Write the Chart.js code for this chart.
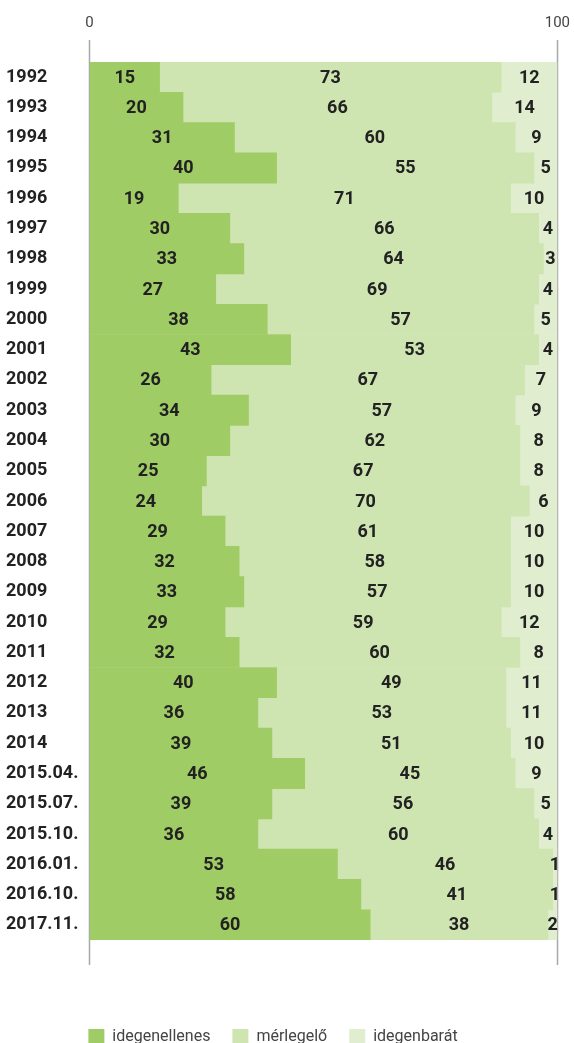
<!DOCTYPE html>
<html>
<head>
<meta charset="utf-8">
<script src="https://cdn.jsdelivr.net/npm/chart.js@4"></script>
<style>
  html, body { margin: 0; padding: 0; background: #fff; overflow: hidden; }
  #wrap { width: 574px; height: 1043px; }
</style>
</head>
<body>
<div id="wrap"><canvas id="chart"></canvas></div>
<script>
// survey periods
const periods = ['1992', '1993', '1994', '1995', '1996', '1997', '1998', '1999', '2000', '2001',
    '2002', '2003', '2004', '2005', '2006', '2007', '2008', '2009', '2010', '2011',
    '2012', '2013', '2014', '2015.04.', '2015.07.', '2015.10.', '2016.01.', '2016.10.', '2017.11.'];

const idegenellenes = [15, 20, 31, 40, 19, 30, 33, 27, 38, 43, 26, 34, 30, 25, 24, 29, 32, 33, 29, 32, 40, 36, 39, 46, 39, 36, 53, 58, 60];
const merlegelo = [73, 66, 60, 55, 71, 66, 64, 69, 57, 53, 67, 57, 62, 67, 70, 61, 58, 57, 59, 60, 49, 53, 51, 45, 56, 60, 46, 41, 38];
const idegenbarat = [12, 14, 9, 5, 10, 4, 3, 4, 5, 4, 7, 9, 8, 8, 6, 10, 10, 10, 12, 8, 11, 11, 10, 9, 5, 4, 1, 1, 2];

const axisTicks = [0, 100];

const FONT = "Roboto, 'Noto Sans', sans-serif";

// the two axis lines run a bit above and below the bars
const axisLines = {
    id: 'axisLines',
    beforeDatasetsDraw(chart) {
        let ctx = chart.ctx;
        let x = chart.scales.x;
        let area = chart.chartArea;
        ctx.save();
        ctx.strokeStyle = '#a8a8a8';
        ctx.lineWidth = 1.5;
        axisTicks.forEach(v => {
            let px = Math.round(x.getPixelForValue(v)) + 0.5;
            ctx.beginPath();
            ctx.moveTo(px, area.top - 22);
            ctx.lineTo(px, area.bottom + 25);
            ctx.stroke();
        });
        ctx.restore();
    }
};

// numbers in the middle of each segment
const segmentLabels = {
    id: 'segmentLabels',
    afterDatasetsDraw(chart) {
        let ctx = chart.ctx;
        ctx.save();
        ctx.font = "bold 18px " + FONT;
        ctx.fillStyle = '#222222';
        ctx.textAlign = 'center';
        ctx.textBaseline = 'middle';
        chart.data.datasets.forEach((ds, i) => {
            let meta = chart.getDatasetMeta(i);
            meta.data.forEach((bar, j) => {
                let cx = (bar.x + bar.base) / 2;
                ctx.fillText(String(ds.data[j]), cx, bar.y + 1);
            });
        });
        ctx.restore();
    }
};

// legend sits a little left of centre in the original
const legendShift = {
    id: 'legendShift',
    afterLayout(chart) {
        chart.legend.left -= 17;
        chart.legend.right -= 17;
    }
};

new Chart(document.getElementById('chart'), {
    type: 'bar',
    data: {
        labels: periods,
        datasets: [
            { label: 'idegenellenes', data: idegenellenes, backgroundColor: '#9fcc64' },
            { label: 'mérlegelő', data: merlegelo, backgroundColor: '#cee4b1' },
            { label: 'idegenbarát', data: idegenbarat, backgroundColor: '#e0eecf' }
        ]
    },
    options: {
        indexAxis: 'y',
        responsive: true,
        maintainAspectRatio: false,
        animation: false,
        barPercentage: 1,
        categoryPercentage: 1,
        layout: { padding: { left: 6, right: 0, top: 10, bottom: -12 } },
        scales: {
            x: {
                position: 'top',
                stacked: true,
                min: 0,
                max: 100,
                afterBuildTicks(axis) { axis.ticks = axisTicks.map(v => ({ value: v })); },
                grid: { display: true, drawOnChartArea: false, drawTicks: true, tickLength: 26, color: 'rgba(0,0,0,0)' },
                border: { display: false },
                ticks: {
                    color: '#444444',
                    font: { family: FONT, size: 15 },
                    padding: 4
                }
            },
            x2: {
                position: 'bottom',
                type: 'linear',
                min: 0,
                max: 100,
                grid: { display: true, drawOnChartArea: false, drawTicks: true, tickLength: 67, color: 'rgba(0,0,0,0)' },
                border: { display: false },
                ticks: { display: false }
            },
            y: {
                stacked: true,
                grid: { display: false, drawTicks: false },
                border: { display: false },
                ticks: {
                    color: '#222222',
                    crossAlign: 'far',
                    padding: 5.5,
                    autoSkip: false,
                    font: { family: FONT, size: 18, weight: 'bold' }
                }
            }
        },
        plugins: {
            legend: {
                position: 'bottom',
                labels: {
                    boxWidth: 16,
                    boxHeight: 16,
                    padding: 22,
                    color: '#444444',
                    font: { family: FONT, size: 16 }
                }
            },
            tooltip: { enabled: false }
        }
    },
    plugins: [axisLines, segmentLabels, legendShift]
});
</script>
</body>
</html>
